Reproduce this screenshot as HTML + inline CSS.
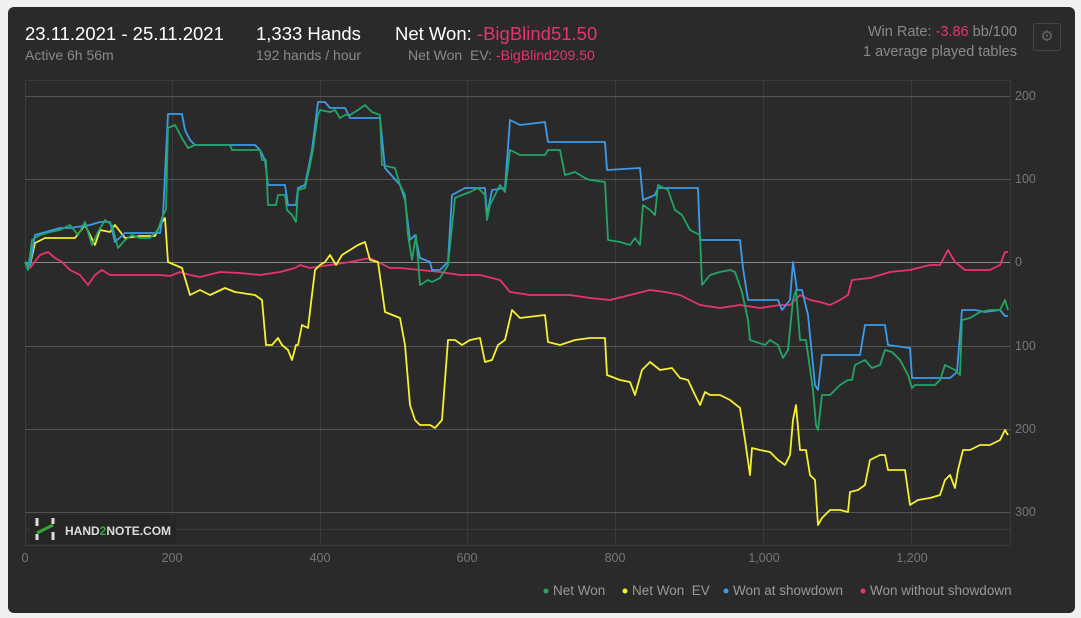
<!DOCTYPE html>
<html><head><meta charset="utf-8"><style>
body{margin:0;background:#f0f0f0;width:1081px;height:618px;overflow:hidden;font-family:"Liberation Sans",sans-serif}
.card{position:absolute;left:8px;top:7px;width:1067px;height:606px;background:#2a2a2a;border-radius:6px}
.t{position:absolute;white-space:nowrap}
.big{font-size:18.5px;color:#fff}
.sm{font-size:14px;color:#8a8a8a}
.pink{color:#e8336e}
</style></head><body>
<div class="card"></div>
<div class="t big" style="left:25px;top:23px">23.11.2021 - 25.11.2021</div>
<div class="t sm" style="left:25px;top:47px">Active 6h 56m</div>
<div class="t big" style="left:256px;top:23px">1,333 Hands</div>
<div class="t sm" style="left:256px;top:47px">192 hands / hour</div>
<div class="t big" style="left:395px;top:23px">Net Won: <span class="pink">-BigBlind51.50</span></div>
<div class="t sm" style="left:408px;top:47px">Net Won &nbsp;EV: <span class="pink">-BigBlind209.50</span></div>
<div class="t sm" style="right:64px;top:24px;font-size:14.5px">Win Rate: <span class="pink">-3.86</span> bb/100</div>
<div class="t sm" style="right:64px;top:44px;font-size:14.5px">1 average played tables</div>
<div class="t" style="left:1033px;top:23px;width:26px;height:26px;border:1px solid #444;border-radius:3px;color:#666;font-size:15px;text-align:center;line-height:26px">⚙</div>
<svg width="1081" height="618" style="position:absolute;left:0;top:0" font-family="Liberation Sans,sans-serif">
<g stroke="#3a3a3a" stroke-width="1" fill="none">
<rect x="25.5" y="80.5" width="985" height="465"/>
<line x1="172.5" y1="80" x2="172.5" y2="545"/><line x1="320.5" y1="80" x2="320.5" y2="545"/><line x1="467.5" y1="80" x2="467.5" y2="545"/><line x1="615.5" y1="80" x2="615.5" y2="545"/><line x1="763.5" y1="80" x2="763.5" y2="545"/><line x1="911.5" y1="80" x2="911.5" y2="545"/>
<line x1="25" y1="529.5" x2="1010" y2="529.5"/>
</g>
<g stroke="#555" stroke-width="1">
<line x1="25" y1="96.5" x2="1010" y2="96.5"/><line x1="25" y1="179.5" x2="1010" y2="179.5"/><line x1="25" y1="346.5" x2="1010" y2="346.5"/><line x1="25" y1="429.5" x2="1010" y2="429.5"/><line x1="25" y1="512.5" x2="1010" y2="512.5"/>
</g>
<line x1="25" y1="262.5" x2="1010" y2="262.5" stroke="#888" stroke-width="1"/>
<g fill="#777" font-size="12.5">
<text x="1015" y="100">200</text><text x="1015" y="183">100</text><text x="1015" y="266">0</text><text x="1015" y="350">100</text><text x="1015" y="433">200</text><text x="1015" y="516">300</text>
<g text-anchor="middle"><text x="25" y="562">0</text><text x="172" y="562">200</text><text x="320" y="562">400</text><text x="467" y="562">600</text><text x="615" y="562">800</text><text x="764" y="562">1,000</text><text x="912" y="562">1,200</text></g>
</g>
<rect x="30" y="515" width="146" height="29" fill="#262626"/>
<path d="M37 518v8M37 534v6M53 518v6M53 532v8" stroke="#ddd" stroke-width="3"/>
<path d="M37 533 L45 529 L53 525" stroke="#3a3" stroke-width="3" fill="none"/>
<text x="65" y="535" fill="#ddd" font-size="12" font-weight="bold">HAND<tspan fill="#3a3">2</tspan>NOTE.COM</text>
<g fill="none" stroke-width="1.8" stroke-linejoin="round">
<polyline stroke="#e8336e" points="25,262 30,268 40,255 48,252 55,258 62,262 70,270 80,275 88,285 95,275 102,270 110,275 130,275 160,275 170,276 180,272 190,275 200,277 220,272 240,273 260,275 280,272 295,268 300,265 310,268 330,265 350,262 370,258 378,262 390,268 400,268 420,270 440,272 460,275 480,275 500,280 510,292 530,295 550,295 570,295 590,298 610,300 630,295 650,290 665,292 680,295 700,305 720,308 740,305 760,308 780,305 790,305 800,295 810,300 820,302 830,305 840,300 848,295 852,280 870,278 890,272 910,270 930,265 940,265 948,250 955,262 965,270 980,270 990,270 1000,265 1005,252 1008,252"/>
<polyline stroke="#f5f032" points="25,262 30,265 35,243 45,238 60,238 75,238 85,225 95,245 100,230 110,232 115,225 125,238 140,236 155,236 160,225 165,218 168,262 175,265 182,268 190,295 200,290 210,295 225,288 235,292 255,295 262,300 266,345 272,345 278,338 282,345 288,350 292,360 296,345 298,345 302,325 308,328 315,270 320,265 325,262 330,255 336,265 342,255 350,250 358,245 365,242 370,260 378,262 385,312 400,318 405,345 410,405 415,420 420,425 430,425 435,428 442,420 448,340 455,340 462,345 470,340 480,338 485,362 492,360 498,345 505,340 512,310 520,318 545,315 548,342 560,345 575,340 590,338 605,338 607,375 620,380 630,382 635,395 642,370 650,362 660,370 672,368 680,378 688,380 695,395 700,405 705,392 710,395 720,395 730,400 740,408 745,440 750,475 752,448 760,450 770,452 778,460 785,465 790,455 793,420 796,405 800,450 806,450 810,475 815,480 818,525 822,518 830,510 840,510 848,512 850,492 858,490 865,485 870,460 880,455 885,455 888,470 905,470 910,505 918,500 930,498 940,495 945,480 950,475 955,488 958,470 963,450 970,450 980,445 990,445 1000,440 1005,430 1008,435"/>
<polyline stroke="#3d9be9" points="25,262 30,265 35,235 60,228 70,228 90,225 100,222 110,222 115,242 125,233 160,233 163,215 168,114 182,114 185,130 190,140 195,145 230,145 255,145 260,150 265,160 268,185 285,185 288,205 296,205 298,188 305,185 312,150 318,102 325,102 330,108 345,108 350,118 365,118 380,118 385,168 400,185 405,200 410,240 415,235 420,258 430,262 432,270 440,270 448,262 452,195 465,188 485,188 487,215 492,190 505,188 510,120 520,125 545,122 548,142 560,142 605,142 607,170 640,168 643,200 655,195 658,188 698,188 700,240 740,240 743,268 748,300 765,300 778,300 782,310 790,300 793,262 797,290 802,290 808,315 815,385 818,390 822,355 860,355 865,325 885,325 888,345 910,348 912,378 950,378 957,372 962,310 975,310 985,312 1000,310 1005,316 1008,316"/>
<polyline stroke="#22a565" points="25,262 28,270 32,240 40,235 50,232 60,230 70,225 78,235 85,222 92,245 98,232 105,220 112,225 118,248 125,240 132,235 140,238 150,238 158,230 163,215 166,210 168,128 175,125 182,138 188,148 195,145 230,145 232,150 260,150 262,160 266,160 268,205 276,205 278,195 285,195 287,210 292,215 296,222 298,190 305,188 310,165 313,150 315,135 318,115 320,110 330,112 335,110 340,118 345,115 350,115 358,110 365,105 372,112 380,115 382,165 395,168 400,185 405,195 408,235 412,260 416,235 420,285 428,280 432,282 440,278 448,265 455,198 462,195 470,192 478,188 485,195 487,220 490,205 495,195 500,185 505,192 510,150 520,155 545,155 548,150 560,150 565,175 575,172 585,178 590,180 605,182 608,240 620,242 630,245 635,238 640,245 643,205 650,210 655,215 658,185 668,190 675,210 682,215 690,230 700,235 702,285 710,275 720,272 730,270 735,272 742,292 748,320 750,340 765,345 770,340 778,345 783,358 788,350 793,300 796,290 800,340 806,340 813,390 816,425 818,430 822,395 830,395 840,385 848,380 852,380 855,365 865,360 872,368 880,365 885,350 892,352 900,360 908,375 912,388 915,385 935,385 940,380 945,365 955,370 960,375 962,320 970,318 980,312 990,310 1000,310 1005,300 1008,310"/>
</g>
<g font-size="13.5" fill="#999">
<circle cx="546" cy="591" r="2.5" fill="#22a565"/><text x="553" y="595">Net Won</text>
<circle cx="625" cy="591" r="2.5" fill="#f5f032"/><text x="632" y="595">Net Won &#160;EV</text>
<circle cx="726" cy="591" r="2.5" fill="#3d9be9"/><text x="733" y="595">Won at showdown</text>
<circle cx="863" cy="591" r="2.5" fill="#e8336e"/><text x="870" y="595">Won without showdown</text>
</g>
</svg>
</body></html>
